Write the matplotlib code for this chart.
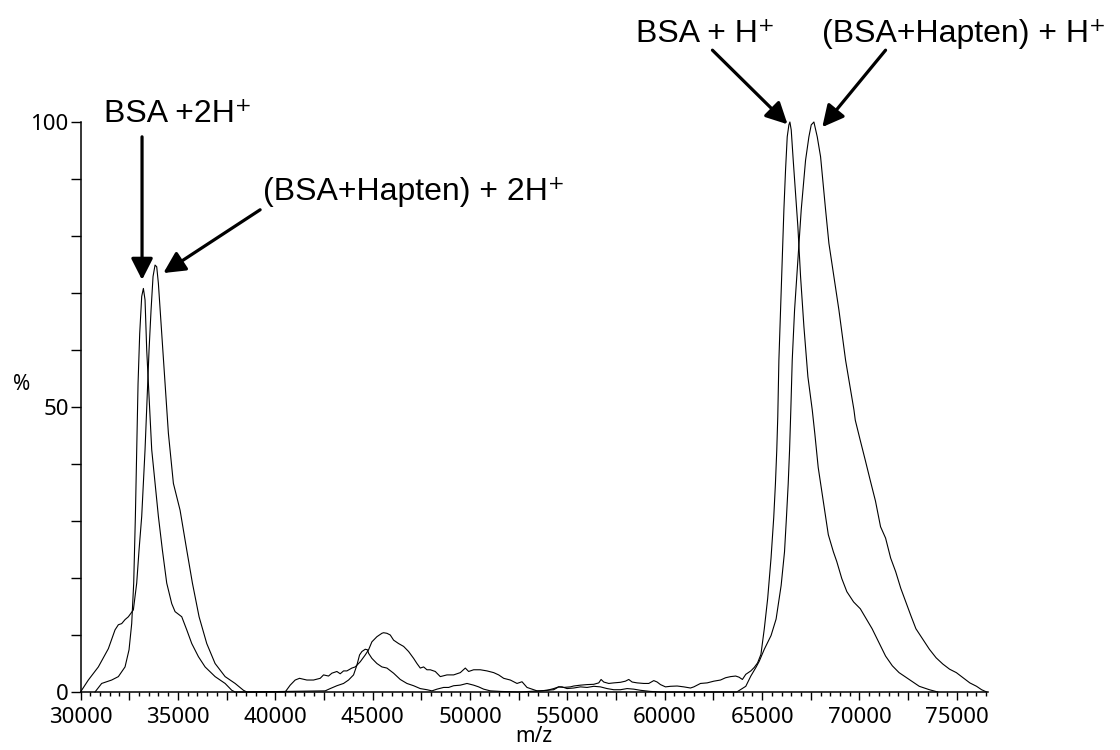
import matplotlib
matplotlib.use("Agg")
import matplotlib.pyplot as plt
from matplotlib.ticker import MultipleLocator, FuncFormatter

# BSA spectrum (m/z, %)
bsa_mz = [30745, 31087, 31601, 31944, 32287, 32492, 32629, 32732, 32818, 32886,
          32955, 33040, 33143, 33229, 33314, 33400, 33486, 33657, 33828, 34000,
          34205, 34428, 34685, 34856, 35199, 35456, 35713, 36055, 36398, 36912,
          37426, 37768, 37939, 40510, 40767, 41023, 41246, 41623, 41966, 42308,
          42480, 42736, 42908, 43165, 43336, 43507, 43679, 43936, 44107, 44364,
          44621, 44792, 44963, 45220, 45477, 45563, 45734, 45906, 46077, 46334,
          46591, 46848, 47105, 47276, 47447, 47619, 47790, 47961, 48218, 48475,
          48818, 49160, 49503, 49760, 49931, 50188, 50531, 50873, 51216, 51473,
          51730, 52072, 52415, 52672, 52929, 53186, 53443, 53614, 53957, 54299,
          54556, 54813, 55156, 55327, 55670, 56012, 56355, 56612, 56732, 56869,
          57126, 57383, 57725, 57982, 58153, 58325, 58582, 58924, 59181, 59438,
          59610, 59781, 60038, 60295, 60637, 60980, 61323, 61494, 61836, 62179,
          62522, 62864, 63124, 63383, 63643, 63816, 63989, 64162, 64421, 64594,
          64767, 64940, 65113, 65286, 65459, 65597, 65684, 65753, 65805, 65862,
          65947, 66033, 66119, 66204, 66290, 66376, 66427, 66496, 66598, 66718,
          66838, 66975, 67147, 67352, 67575, 67708, 67881, 68141, 68400, 68660,
          68833, 69092, 69352, 69698, 70044, 70303, 70649, 70995, 71341, 71687,
          72033, 72552, 73071, 73590, 74023]
bsa_pct = [0, 1.5, 2.1, 2.7, 4.4, 7.4, 12.0, 19.1, 30.8, 42.5,
           54.1, 62.9, 69.4, 70.8, 68.8, 60.0, 54.1, 42.5, 36.6, 30.8,
           24.9, 19.1, 15.5, 14.1, 13.2, 10.9, 8.5, 6.2, 4.4, 2.7,
           1.5, 0.3, 0, 0, 1.2, 2.1, 2.4, 2.1, 2.1, 2.4,
           3.0, 2.8, 3.3, 3.6, 3.2, 3.7, 3.7, 4.2, 4.4, 5.3,
           6.5, 7.4, 8.8, 9.7, 10.3, 10.4, 10.3, 10.0, 9.1, 8.5,
           8.0, 7.1, 5.9, 5.0, 4.2, 4.4, 3.9, 3.9, 3.6, 2.7,
           3.0, 3.0, 3.4, 4.2, 3.6, 3.9, 3.9, 3.7, 3.4, 3.0,
           2.4, 2.1, 1.5, 1.8, 0.8, 0.5, 0.2, 0.2, 0.3, 0.6,
           0.9, 0.8, 0.9, 1.05, 1.2, 1.3, 1.35, 1.6, 2.2, 1.75,
           1.5, 1.6, 1.7, 1.9, 2.2, 1.75, 1.6, 1.5, 1.5, 2.0,
           1.75, 1.3, 0.9, 1.0, 1.05, 0.9, 0.7, 0.9, 1.5, 1.6,
           1.9, 2.1, 2.5, 2.7, 2.8, 2.6, 2.2, 3.1, 3.7, 4.3,
           5.1, 6.6, 11.1, 16.4, 23.5, 30.6, 36.5, 42.4, 48.3, 58.2,
           67.0, 75.8, 84.6, 91.6, 97.4, 99.5, 100, 98.6, 93.3, 87.5,
           81.6, 72.9, 64.1, 55.3, 49.5, 45.3, 39.4, 33.5, 27.6, 24.6,
           22.9, 19.9, 17.6, 15.8, 14.6, 13.1, 11.1, 8.7, 6.3, 4.6,
           3.4, 2.2, 1.0, 0.4, 0]

# BSA + hapten spectrum (m/z, %)
hap_mz = [30000, 30402, 30916, 31430, 31773, 31944, 32115, 32287, 32458, 32714,
          32886, 33006, 33143, 33229, 33314, 33383, 33451, 33520, 33623, 33725,
          33828, 33914, 33999, 34171, 34342, 34513, 34770, 35113, 35456, 35747,
          36089, 36483, 36911, 37426, 37940, 38368, 38539, 42565, 42822, 43165,
          43507, 43764, 44021, 44192, 44330, 44450, 44621, 44741, 44792, 44963,
          45220, 45477, 45734, 46077, 46419, 46762, 47105, 47447, 47790, 48047,
          48304, 48646, 48904, 49160, 49503, 49846, 50188, 50445, 50702, 51045,
          51559, 52500, 53614, 54299, 54556, 54727, 54984, 55327, 55670, 56012,
          56355, 56697, 57040, 57383, 57725, 58067, 58410, 58753, 59267, 59781,
          63700, 64162, 64421, 64681, 64854, 65113, 65459, 65719, 65978, 66151,
          66250, 66340, 66410, 66475, 66547, 66667, 66838, 67009, 67232, 67403,
          67523, 67660, 67832, 68003, 68260, 68431, 68688, 68945, 69287, 69716,
          69784, 70044, 70303, 70563, 70822, 71082, 71341, 71601, 71860, 72120,
          72379, 72639, 72898, 73244, 73590, 73936, 74282, 74628, 74974, 75320,
          75666, 76012, 76272, 76531]
hap_pct = [0, 2.1, 4.4, 7.6, 10.9, 11.8, 12.0, 12.7, 13.2, 14.4,
           19.1, 24.9, 30.8, 36.6, 42.5, 48.3, 54.1, 60.0, 67.0, 72.9,
           74.9, 74.6, 71.7, 62.9, 54.1, 45.4, 36.6, 31.9, 24.9, 19.1,
           13.2, 8.5, 5.0, 2.7, 1.5, 0.3, 0, 0.2, 0.6, 1.1,
           1.5, 2.1, 3.0, 4.7, 6.5, 7.1, 7.5, 7.4, 6.8, 5.9,
           5.0, 4.4, 4.2, 3.3, 2.2, 1.5, 1.1, 0.6, 0.4, 0.2,
           0.5, 0.8, 0.8, 1.1, 1.2, 1.5, 1.2, 0.9, 0.5, 0.2,
           0.1, 0, 0.2, 0.4, 0.9, 0.9, 0.6, 0.7, 0.9, 0.8,
           1.0, 0.9, 0.6, 0.4, 0.4, 0.6, 0.5, 0.3, 0.1, 0,
           0, 1.0, 2.8, 4.3, 5.4, 7.5, 9.9, 12.8, 18.7, 24.6,
           30.6, 36.5, 42.4, 49.5, 58.2, 67.0, 75.8, 84.6, 93.3, 97.4,
           99.5, 100, 97.4, 93.9, 84.6, 78.7, 72.9, 67.0, 58.2, 49.5,
           47.7, 44.1, 40.6, 37.0, 33.5, 29.0, 27.0, 23.5, 21.1, 18.2,
           15.8, 13.4, 11.1, 9.3, 7.5, 6.0, 4.9, 4.0, 3.4, 2.5,
           1.6, 1.0, 0.4, 0]

# peak labels: text, arrow tail (m/z, %), arrow tip (m/z, %)
labels = ["BSA +2H\u207a", "(BSA+Hapten) + 2H\u207a", "BSA + H\u207a", "(BSA+Hapten) + H\u207a"]
arrow_tail = [(33160, 97.4), (39224, 84.6), (62450, 112.6), (71340, 112.6)]
arrow_tip = [(33160, 72.3), (34255, 73.5), (66306, 99.6), (68090, 99.1)]
label_px = [(104, 122), (263, 200), (636, 42), (822, 42)]

fig = plt.figure(figsize=(11.2, 7.5), dpi=100)
ax = fig.add_axes([80.5 / 1120, 1 - 692 / 750, (988 - 80.5) / 1120, 570 / 750])

ax.plot(bsa_mz, bsa_pct, color="black", lw=0.8, clip_on=False)
ax.plot(hap_mz, hap_pct, color="black", lw=0.8, clip_on=False)

ax.set_xlim(30000, 76600)
ax.set_ylim(0, 100)
ax.spines["top"].set_visible(False)
ax.spines["right"].set_visible(False)
ax.spines["left"].set_bounds(0, 100)
for s in ("left", "bottom"):
    ax.spines[s].set_linewidth(1.1)

ax.xaxis.set_major_locator(MultipleLocator(2500))
ax.xaxis.set_minor_locator(MultipleLocator(500))
ax.xaxis.set_major_formatter(FuncFormatter(lambda v, p: f"{int(v)}" if int(v) % 5000 == 0 else ""))
ax.yaxis.set_major_locator(MultipleLocator(10))
ax.yaxis.set_major_formatter(FuncFormatter(lambda v, p: f"{int(v)}" if int(v) % 50 == 0 else ""))

ax.tick_params(axis="both", labelsize=16, labelfontfamily="Noto Sans")
ax.tick_params(axis="x", which="major", length=6, width=1.0, pad=5)
ax.tick_params(axis="x", which="minor", length=3, width=1.0)
ax.tick_params(axis="y", which="major", length=7.5, width=1.0, pad=1)

ax.set_xlabel("m/z", family="Noto Sans", fontsize=15, labelpad=-2)
fig.text(21.5 / 1120, 1 - 384 / 750, "%", family="Noto Sans", fontsize=15,
         ha="center", va="center")

for tail, tip in zip(arrow_tail, arrow_tip):
    ax.annotate("", xy=tip, xytext=tail, annotation_clip=False,
                arrowprops=dict(arrowstyle="-|>,head_length=0.65,head_width=0.33",
                                mutation_scale=20, lw=2.3, color="black",
                                shrinkA=0, shrinkB=0))

for text, (px, py) in zip(labels, label_px):
    fig.text(px / 1120, 1 - py / 750, text, family=["Liberation Sans", "DejaVu Sans"],
             fontsize=23, ha="left", va="baseline")

fig.savefig("out.png", dpi=100, facecolor="white")
